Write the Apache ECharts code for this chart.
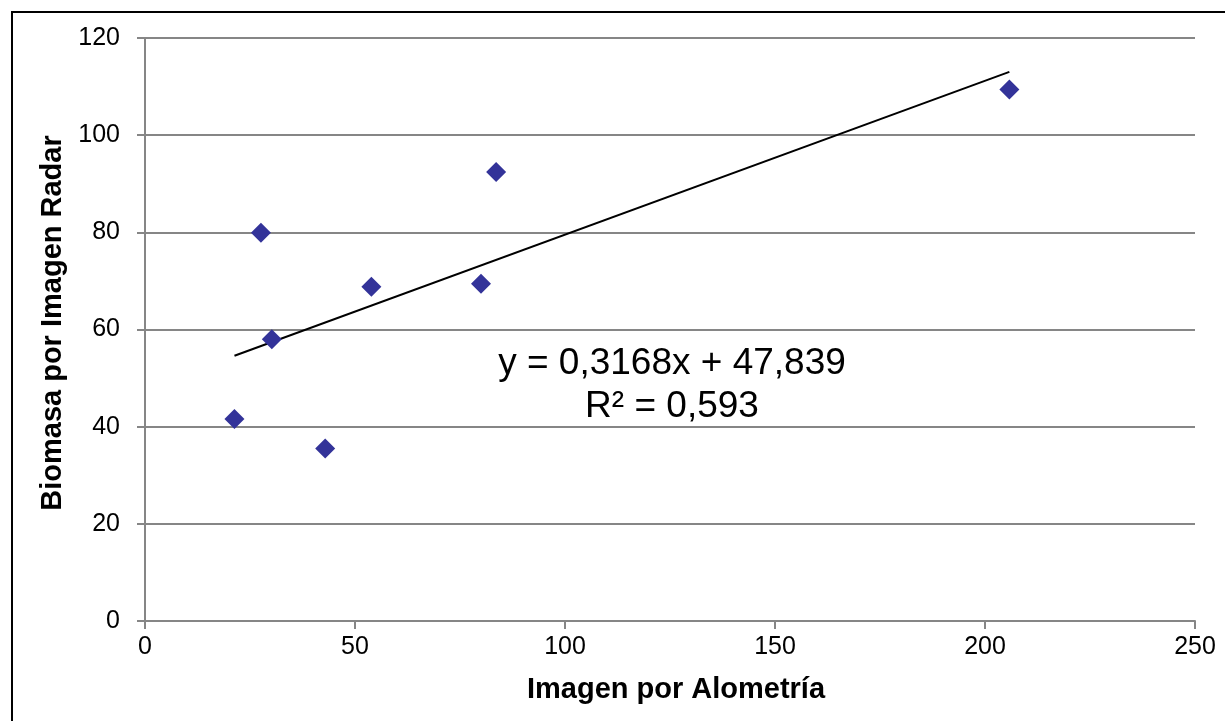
<!DOCTYPE html>
<html>
<head>
<meta charset="utf-8">
<script src="https://cdn.jsdelivr.net/npm/echarts@6/dist/echarts.min.js"></script>
<style>
html,body{margin:0;padding:0;background:#fff;}
#chart{width:1225px;height:721px;}
</style>
</head>
<body>
<div id="chart"></div>
<script>
const xValues = [21.3, 27.6, 30.2, 42.9, 53.9, 80.0, 83.6, 205.8];
const yValues = [41.6, 79.9, 58.0, 35.5, 68.8, 69.4, 92.4, 109.4];
const trendSlope = 0.3168;
const trendIntercept = 47.839;
const equationText = 'y = 0,3168x + 47,839';
const r2Text = 'R² = 0,593';
const xTitle = 'Imagen por Alometría';
const yTitle = 'Biomasa por Imagen Radar';

const FONT = '"Liberation Sans", Arial, sans-serif';
const points = xValues.map((x, i) => [x, yValues[i]]);
const xMin = Math.min(...xValues), xMax = Math.max(...xValues);
const trend = [[xMin, trendSlope * xMin + trendIntercept], [xMax, trendSlope * xMax + trendIntercept]];

const chart = echarts.init(document.getElementById('chart'), null, {renderer: 'canvas'});
chart.setOption({
  animation: false,
  backgroundColor: '#ffffff',
  grid: {left: 145, right: 30, top: 38, bottom: 100, containLabel: false},
  xAxis: {
    type: 'value', min: 0, max: 250, interval: 50,
    name: xTitle, nameLocation: 'middle', nameGap: 54,
    nameTextStyle: {fontFamily: FONT, fontSize: 29, fontWeight: 'bold', color: '#000', padding: [0, 0, 0, 12]},
    axisLine: {show: true, onZero: false, lineStyle: {color: '#868686', width: 2}},
    axisTick: {show: true, length: 8, lineStyle: {color: '#868686', width: 2}},
    axisLabel: {fontFamily: FONT, fontSize: 25, color: '#000', margin: 14},
    splitLine: {show: false}
  },
  yAxis: {
    type: 'value', min: 0, max: 120, interval: 20,
    name: yTitle, nameLocation: 'middle', nameGap: 76, nameRotate: 90,
    nameTextStyle: {fontFamily: FONT, fontSize: 29, fontWeight: 'bold', color: '#000', padding: [0, 0, 0, 13]},
    axisLine: {show: true, lineStyle: {color: '#868686', width: 2}},
    axisTick: {show: true, length: 8, lineStyle: {color: '#868686', width: 2}},
    axisLabel: {fontFamily: FONT, fontSize: 25, color: '#000', margin: 25},
    splitLine: {show: true, lineStyle: {color: '#868686', width: 2}}
  },
  series: [
    {
      type: 'line', data: trend, symbol: 'none', silent: true,
      lineStyle: {color: '#000', width: 2}, z: 2
    },
    {
      type: 'scatter', data: points, symbol: 'diamond', symbolSize: 20,
      itemStyle: {color: '#333399', opacity: 1}, z: 3
    }
  ],
  graphic: [
    {type: 'rect', shape: {x: 12, y: 12, width: 1400, height: 900},
     style: {fill: 'none', stroke: '#000', lineWidth: 2}, silent: true},
    {type: 'text', x: 672, y: 364,
     style: {text: equationText, font: '37px ' + FONT, fill: '#000', textAlign: 'center', textVerticalAlign: 'middle'}},
    {type: 'text', x: 672, y: 407,
     style: {text: r2Text, font: '37px ' + FONT, fill: '#000', textAlign: 'center', textVerticalAlign: 'middle'}}
  ]
});
</script>
</body>
</html>
